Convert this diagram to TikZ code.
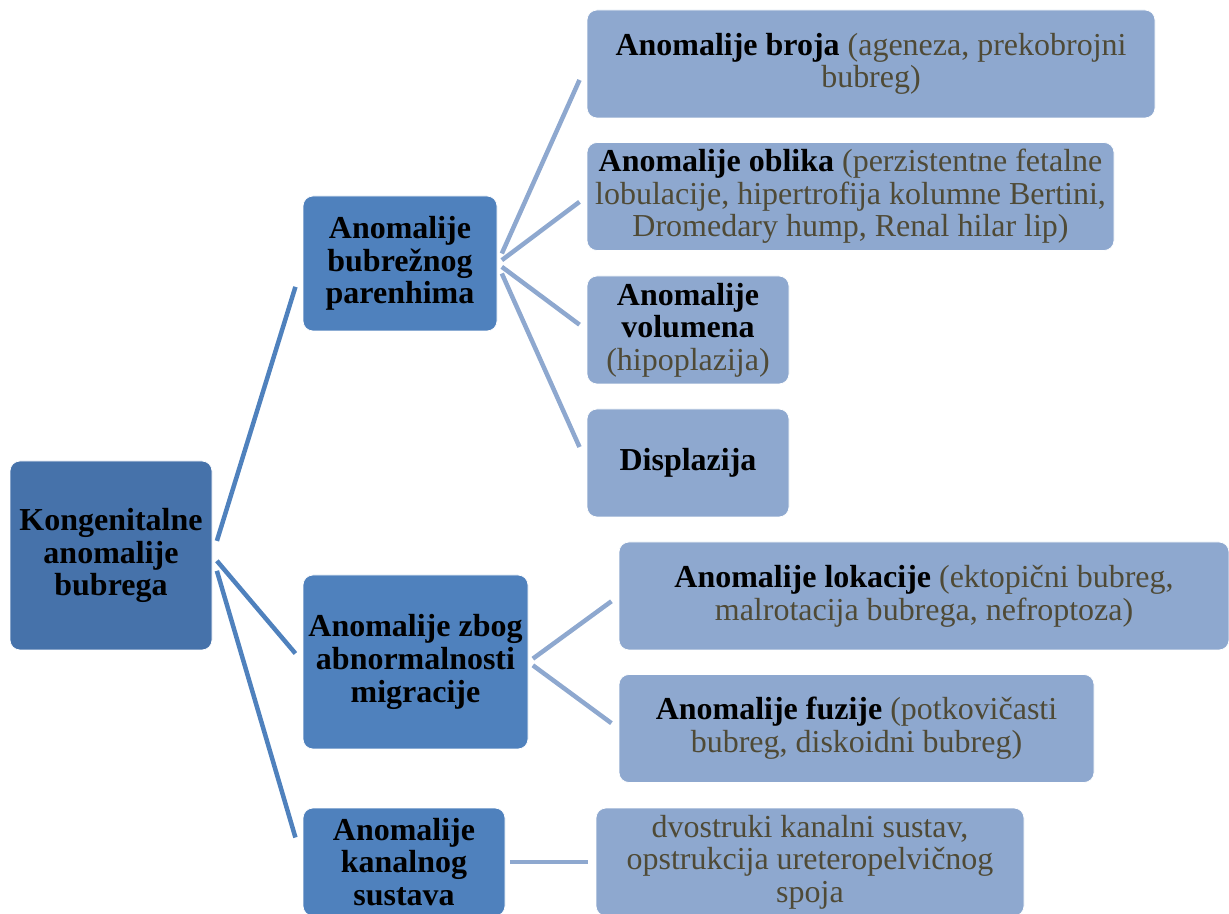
\documentclass[tikz,border=0pt]{standalone}
\usepackage{fontspec}
\setmainfont{Liberation Serif}
\usetikzlibrary{calc}

\definecolor{tamnoplava}{HTML}{4672AA}
\definecolor{srednjeplava}{HTML}{4F81BD}
\definecolor{svijetloplava}{HTML}{8EA8CF}
\definecolor{napomena}{HTML}{4F4A36}

\begin{document}
\begin{tikzpicture}[align = center, font = \fontsize{18.2}{18.6}\selectfont,
        okvir/.style = {rounded corners = 0.2cm, inner sep = 0, draw = white, line width = 0.4pt},
        glavni/.style = {okvir, fill = tamnoplava, font = \fontsize{18.2}{18.6}\selectfont\bfseries},
        grana/.style = {okvir, fill = srednjeplava, font = \fontsize{18.2}{18.6}\selectfont\bfseries},
        list/.style = {okvir, fill = svijetloplava, minimum height = 2.16cm},
        spojnica/.style = {line width = 0.09cm, srednjeplava},
        tankaspojnica/.style = {line width = 0.09cm, svijetloplava}]
        \useasboundingbox (0, 0) rectangle (24.58, 18.26);

        % korijen
        \node[glavni, minimum width = 4.04cm, minimum height = 3.78cm] (korijen) at (2.22, 7.15)
            {Kongenitalne \\ anomalije \\ bubrega};

        % prva razina
        \node[grana, minimum width = 3.88cm, minimum height = 2.70cm] (parenhim) at (8.0, 12.99)
            {Anomalije \\ bubrežnog \\ parenhima};
        \node[grana, minimum width = 4.5cm, minimum height = 3.48cm] (migracija) at (8.31, 5.02)
            {Anomalije zbog \\ abnormalnosti \\ migracije};
        \node[grana, minimum width = 4.04cm, minimum height = 2.16cm] (kanal) at (8.08, 1.02)
            {Anomalije \\ kanalnog \\ sustava};

        % druga razina
        \node[list, minimum width = 11.36cm] (broj) at (17.42, 16.98)
            {\textbf{Anomalije broja} \textcolor{napomena}{(ageneza, prekobrojni} \\
             \textcolor{napomena}{bubreg)}};
        \node[list, minimum width = 10.54cm] (oblik) at (17.01, 14.33)
            {\textbf{Anomalije oblika} \textcolor{napomena}{(perzistentne fetalne} \\
             \textcolor{napomena}{lobulacije, hipertrofija kolumne Bertini,} \\
             \textcolor{napomena}{Dromedary hump, Renal hilar lip)}};
        \node[list, minimum width = 4.04cm] (volumen) at (13.76, 11.66)
            {\textbf{Anomalije} \\ \textbf{volumena} \\ \textcolor{napomena}{(hipoplazija)}};
        \node[list, minimum width = 4.04cm] (displazija) at (13.76, 9.0)
            {\textbf{Displazija}};
        \node[list, minimum width = 12.2cm] (lokacija) at (18.48, 6.34)
            {\textbf{Anomalije lokacije} \textcolor{napomena}{(ektopični bubreg,} \\
             \textcolor{napomena}{malrotacija bubrega, nefroptoza)}};
        \node[list, minimum width = 9.5cm] (fuzija) at (17.13, 3.69)
            {\textbf{Anomalije fuzije} \textcolor{napomena}{(potkovičasti} \\
             \textcolor{napomena}{bubreg, diskoidni bubreg)}};
        \node[list, minimum width = 8.56cm, text = napomena] (dvostruki) at (16.2, 1.02)
            {dvostruki kanalni sustav, \\ opstrukcija ureteropelvičnog \\ spoja};

        % spojnice
        \foreach \dijete in {parenhim, migracija, kanal}
            \draw[spojnica] ($(korijen.east)!0.05!(\dijete.west)$) -- ($(korijen.east)!0.92!(\dijete.west)$);
        \foreach \otac/\dijete in {parenhim/broj, parenhim/oblik, parenhim/volumen, parenhim/displazija,
                migracija/lokacija, migracija/fuzija, kanal/dvostruki}
            \draw[tankaspojnica] ($(\otac.east)!0.05!(\dijete.west)$) -- ($(\otac.east)!0.92!(\dijete.west)$);
    \end{tikzpicture}
\end{document}
